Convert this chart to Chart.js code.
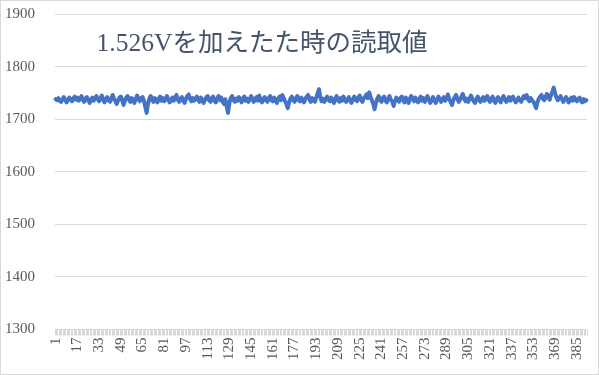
<!DOCTYPE html>
<html>
<head>
<meta charset="utf-8">
<script src="https://cdn.jsdelivr.net/npm/chart.js@4"></script>
<style>
  html, body { margin: 0; padding: 0; background: #fff; }
  #wrap { position: relative; width: 597px; height: 373px; border: 1px solid #d9d9d9; }
</style>
</head>
<body>
<div id="wrap"><canvas id="reading-chart" width="597" height="373"></canvas></div>
<script>
// readings taken while 1.526V was applied (sample no. 1..392)
const readings = [
    1738,1736,1740,1735,1733,1738,1742,1737,1732,1736,1741,1738,1734,1739,1743,1737,
    1741,1735,1738,1744,1737,1733,1739,1742,1736,1731,1737,1741,1735,1739,1744,1738,
    1734,1740,1745,1737,1732,1738,1742,1736,1733,1739,1746,1738,1734,1729,1736,1741,
    1743,1736,1727,1735,1741,1744,1737,1733,1740,1736,1731,1739,1745,1738,1734,1740,
    1742,1735,1724,1712,1729,1739,1744,1737,1733,1740,1736,1732,1739,1743,1735,1740,
    1734,1738,1744,1737,1732,1736,1741,1735,1742,1746,1737,1733,1739,1742,1735,1731,
    1739,1744,1747,1738,1734,1740,1735,1738,1743,1737,1733,1741,1736,1731,1737,1742,
    1744,1736,1733,1740,1743,1735,1732,1739,1744,1736,1741,1734,1729,1738,1724,1712,
    1731,1740,1744,1736,1733,1739,1735,1742,1737,1732,1740,1743,1735,1739,1733,1738,
    1744,1737,1733,1739,1742,1735,1745,1737,1732,1738,1742,1736,1733,1740,1744,1736,
    1734,1741,1736,1731,1739,1743,1736,1746,1740,1734,1729,1721,1732,1739,1743,1736,
    1733,1740,1744,1736,1734,1741,1736,1732,1739,1743,1746,1737,1733,1740,1736,1733,
    1741,1749,1757,1742,1734,1739,1733,1738,1743,1737,1734,1741,1736,1731,1739,1744,
    1736,1733,1740,1735,1743,1738,1733,1737,1742,1735,1731,1738,1743,1737,1734,1741,
    1745,1737,1733,1739,1743,1747,1740,1751,1742,1736,1729,1719,1731,1739,1744,1736,
    1733,1740,1743,1735,1732,1739,1744,1736,1734,1725,1734,1741,1736,1733,1740,1743,
    1736,1732,1741,1736,1731,1739,1744,1738,1734,1741,1736,1732,1739,1743,1735,1740,
    1733,1738,1744,1737,1731,1736,1742,1736,1731,1737,1743,1738,1733,1738,1742,1735,
    1739,1747,1738,1733,1727,1736,1742,1746,1738,1733,1737,1743,1748,1739,1734,1739,
    1733,1739,1745,1739,1734,1731,1738,1743,1737,1733,1738,1742,1735,1739,1744,1737,
    1733,1739,1743,1735,1731,1738,1742,1736,1732,1739,1744,1738,1733,1737,1742,1735,
    1739,1743,1736,1732,1736,1741,1736,1733,1739,1744,1740,1746,1738,1734,1740,1736,
    1733,1728,1721,1732,1739,1743,1746,1739,1736,1743,1748,1741,1737,1746,1752,1760,
    1749,1741,1736,1740,1744,1738,1733,1737,1742,1738,1732,1737,1741,1735,1742,1738,
    1734,1738,1741,1735,1732,1738,1734,1736
];
const samples = readings.map((v, i) => String(i + 1));
const title_text = '1.526Vを加えたた時の読取値';
const label_every = 16;

const serif = '"Liberation Serif", "DejaVu Serif", "Noto Sans CJK JP", serif';

// the title sits inside the plot area, like in the spreadsheet
const floatingTitle = {
    id: 'floatingTitle',
    afterDraw(chart) {
        const ctx = chart.ctx;
        ctx.save();
        ctx.font = '25.5px ' + serif;
        ctx.fillStyle = '#44546a';
        ctx.textAlign = 'center';
        ctx.textBaseline = 'middle';
        ctx.fillText(title_text, 261, 43);
        ctx.restore();
    }
};

// drop the extra room chart.js keeps for the outer tick labels
function noEdgePadding(scale) {
    scale.paddingTop = 0;
    scale.paddingBottom = 0;
    scale.paddingLeft = 0;
    scale.paddingRight = 0;
}

const ctx = document.getElementById('reading-chart').getContext('2d');
const readingChart = new Chart(ctx, {
    type: 'line',
    data: {
        labels: samples,
        datasets: [{
            data: readings,
            borderColor: '#4472c4',
            borderWidth: 4,
            borderJoinStyle: 'round',
            borderCapStyle: 'round',
            pointRadius: 0,
            tension: 0,
            fill: false
        }]
    },
    options: {
        responsive: false,
        animation: false,
        layout: { padding: { left: 4, right: 11, top: 13, bottom: 12 } },
        plugins: {
            legend: { display: false },
            title: { display: false },
            tooltip: { enabled: false }
        },
        scales: {
            x: {
                offset: true,
                afterFit: noEdgePadding,
                border: { display: false },
                grid: { drawOnChartArea: false, drawTicks: true, tickLength: 6, color: '#d9d9d9', offset: true },
                ticks: {
                    autoSkip: false,
                    maxRotation: 90,
                    minRotation: 90,
                    padding: 2,
                    color: '#595959',
                    font: { family: serif, size: 15 },
                    callback: function(value, index) {
                        return index % label_every === 0 ? this.getLabelForValue(value) : '';
                    }
                }
            },
            y: {
                min: 1300,
                max: 1900,
                afterFit: function(scale) {
                    noEdgePadding(scale);
                    scale.width = 50;
                },
                border: { display: false },
                grid: { color: '#d9d9d9', drawTicks: false },
                ticks: {
                    stepSize: 100,
                    padding: 20,
                    color: '#595959',
                    font: { family: serif, size: 15 },
                    callback: value => String(value)
                }
            }
        }
    },
    plugins: [floatingTitle]
});
</script>
</body>
</html>
